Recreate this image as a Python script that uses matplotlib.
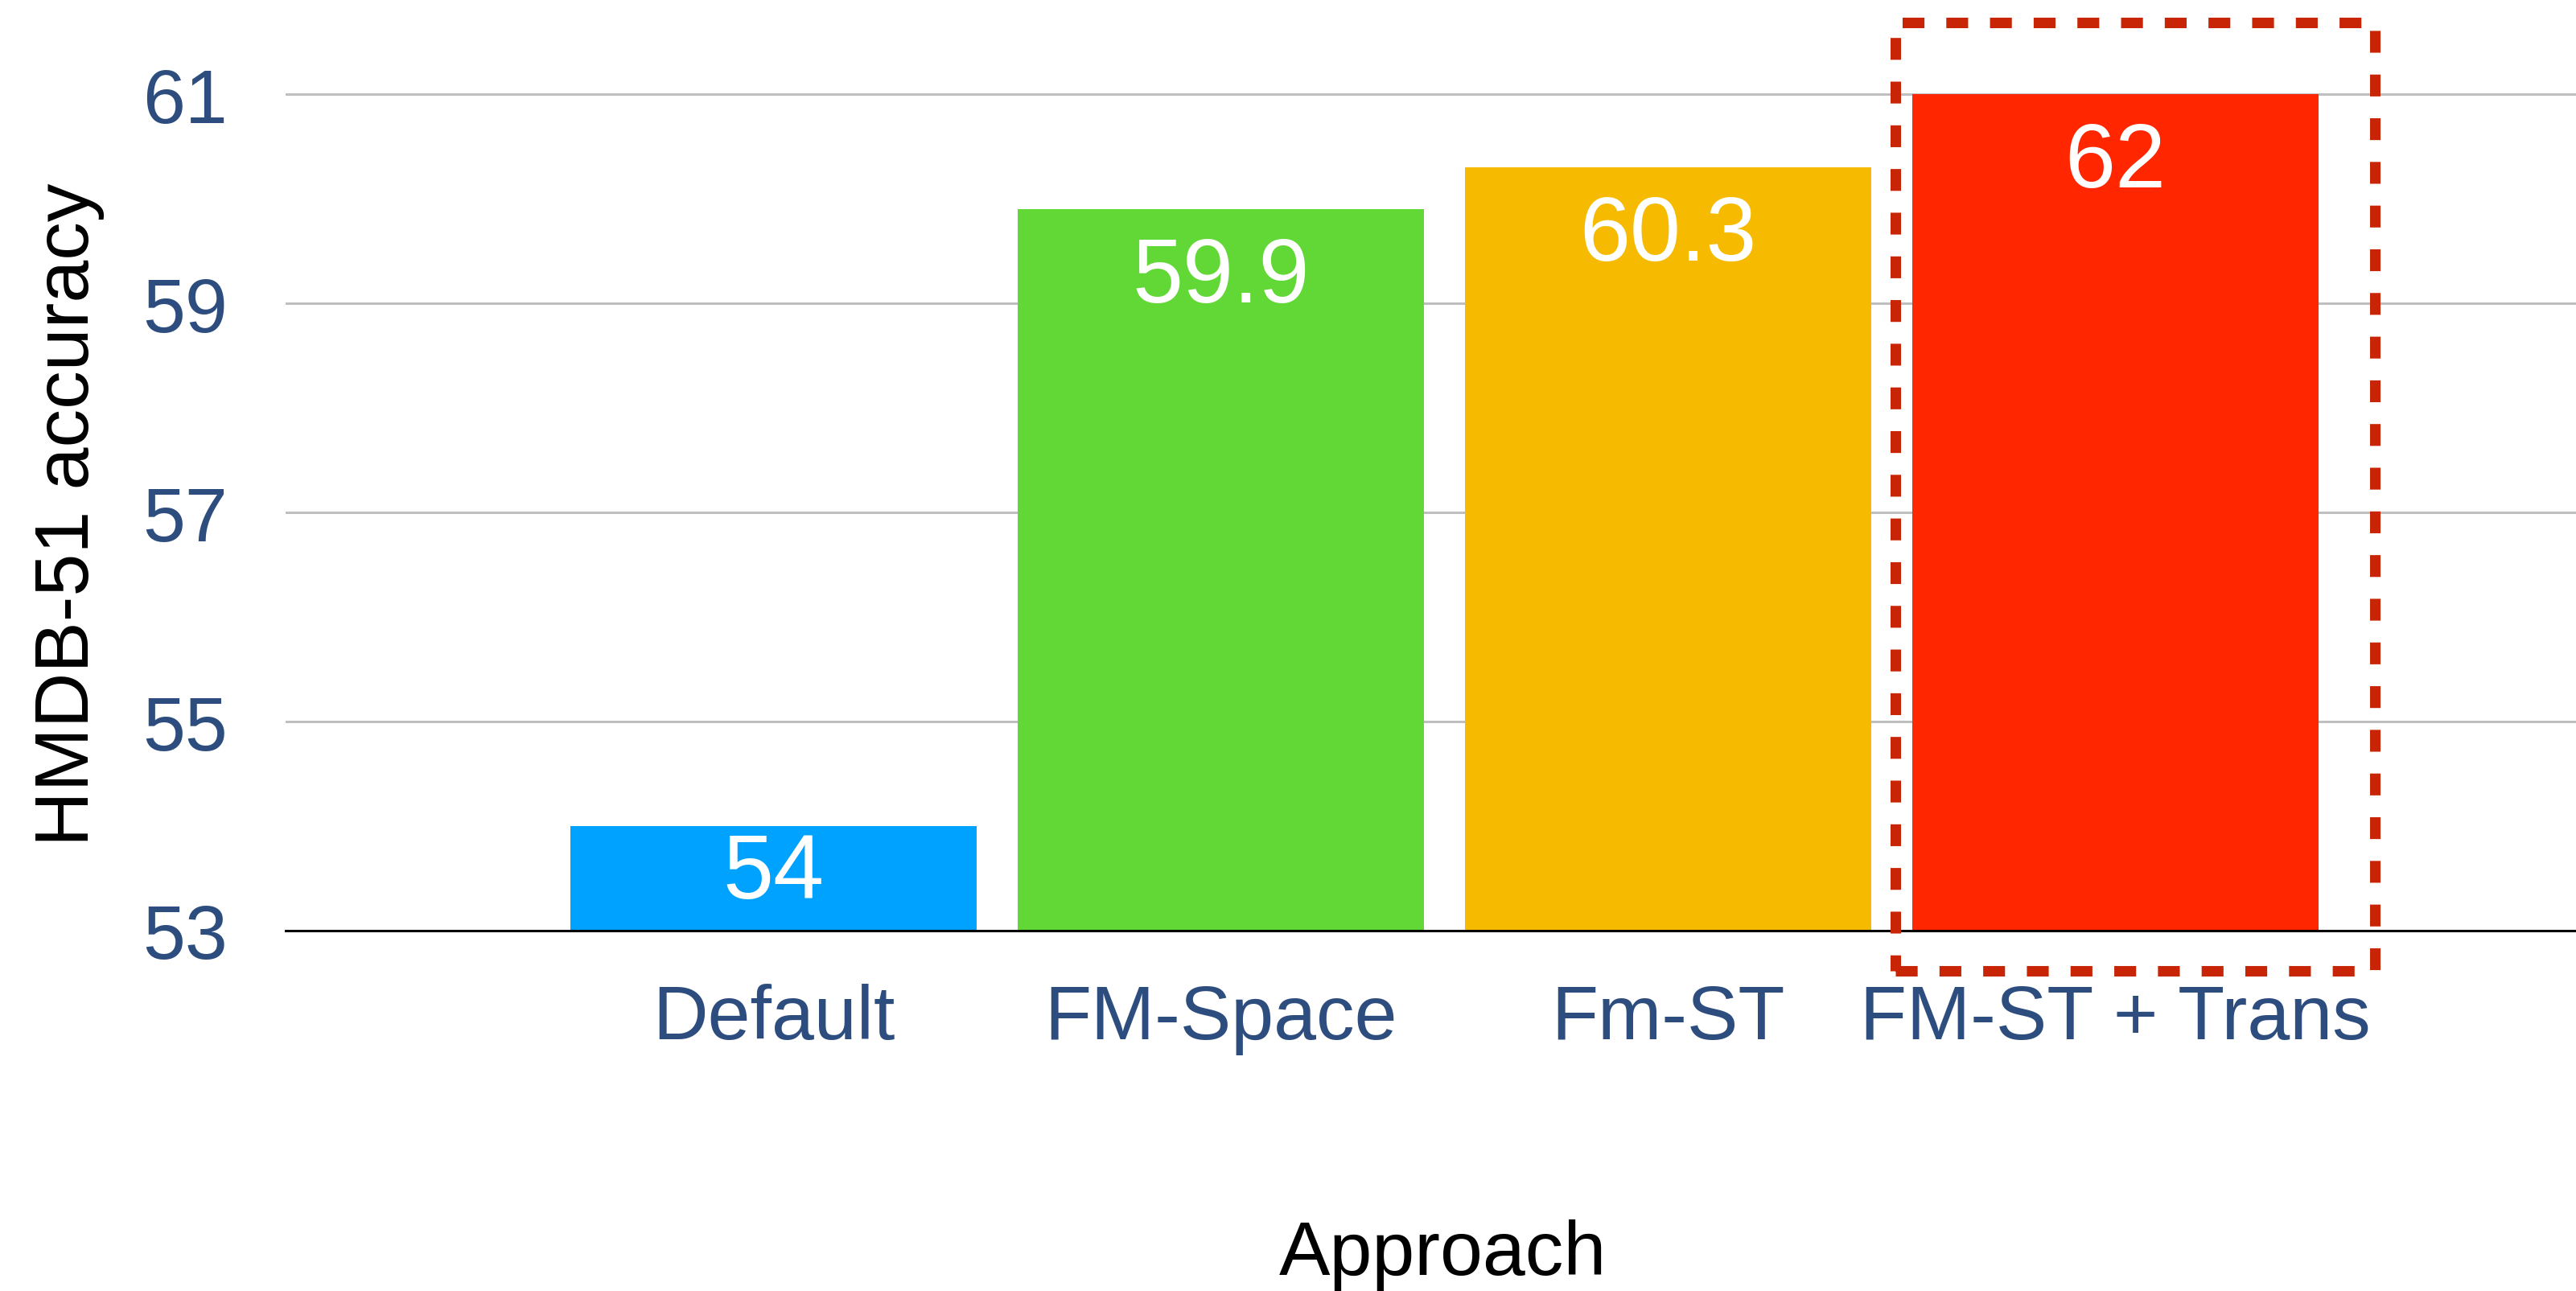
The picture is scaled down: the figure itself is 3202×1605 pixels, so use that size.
import matplotlib
matplotlib.use("Agg")
import matplotlib.pyplot as plt
from matplotlib.patches import Rectangle
import numpy as np

plt.rcParams['font.family'] = ['Liberation Sans', 'DejaVu Sans']

approaches = ['Default', 'FM-Space', 'Fm-ST', 'FM-ST + Trans']
accuracy = [54, 59.9, 60.3, 61]
value_labels = ['54', '59.9', '60.3', '62']
bar_colors = ['#00A2FF', '#61D836', '#F6BB00', '#FF2600']
y_ticks = [53, 55, 57, 59, 61]
highlight = 3

tick_color = '#2D4D7F'
x = np.arange(len(approaches))

fig = plt.figure(figsize=(32.02, 16.06), dpi=100)
ax = fig.add_axes([355 / 3202, 448 / 1606, 1 - 355 / 3202, 1158 / 1606])

ax.bar(x, [v - 53 for v in accuracy], bottom=53, width=0.908,
       color=bar_colors, zorder=2)

ax.set_xlim(-1.091, 4.03)
ax.set_ylim(53, 61.91)
ax.set_yticks(y_ticks)
ax.set_xticks(x)
ax.set_xticklabels(approaches)
ax.tick_params(axis='x', length=0, pad=46.5, labelsize=68.5, labelcolor=tick_color)
ax.tick_params(axis='y', length=0, pad=52, labelsize=68.5, labelcolor=tick_color)

ax.grid(axis='y', color='#BFBFBF', linewidth=2.2, zorder=0)
ax.set_axisbelow(True)
for side in ['left', 'right', 'top']:
    ax.spines[side].set_visible(False)
ax.spines['bottom'].set_color('black')
ax.spines['bottom'].set_linewidth(2.2)
ax.spines['bottom'].set_zorder(3)

# value labels inside the bars
for xi, v, lab in zip(x, accuracy, value_labels):
    if v - 53 < 1.5:
        ax.text(xi, (v + 53) / 2 + 0.04, lab, ha='center', va='center',
                color='white', fontsize=81.5, zorder=4)
    else:
        ax.annotate(lab, (xi, v), xytext=(0, -23.5), textcoords='offset points',
                    ha='center', va='top', color='white', fontsize=81.5, zorder=4)

# dashed box around the best approach
box = Rectangle((highlight - 0.491, 52.615), 1.072, 9.07, fill=False,
                edgecolor='#C82506', linewidth=9.4, linestyle=(0, (2.08, 2.08)),
                clip_on=False, zorder=5)
ax.add_patch(box)

fig.text(86 / 3202, 0.6015, 'HMDB-51 accuracy', rotation=90, ha='center',
         va='center', fontsize=68.5, color='black')
fig.text(1793 / 3202, 21 / 1606, 'Approach', ha='center', va='baseline',
         fontsize=68.5, color='black')

fig.savefig('out.png', dpi=100)
